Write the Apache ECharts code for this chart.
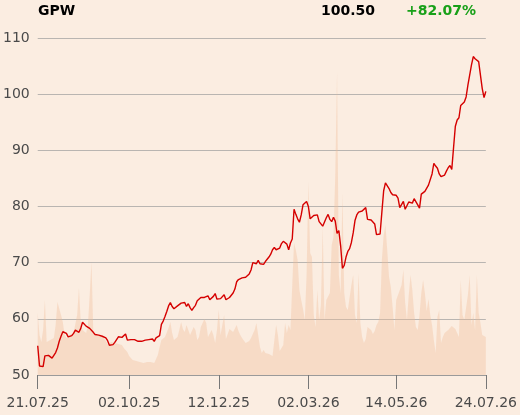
<!DOCTYPE html>
<html>
<head>
<meta charset="utf-8">
<script src="https://cdn.jsdelivr.net/npm/echarts@6/dist/echarts.min.js"></script>
<style>
html,body{margin:0;padding:0;background:#fbede1;}
#c{width:520px;height:415px;}
</style>
</head>
<body>
<div id="c"></div>
<script>
const tickIndex = [0, 51, 101, 151, 200, 250];
const tickLabels = ['21.07.25', '02.10.25', '12.12.25', '02.03.26', '14.05.26', '24.07.26'];
const headerName = 'GPW';
const headerLast = '100.50';
const headerChange = '+82.07%';

const price = [
55.2,51.6,51.5,51.5,53.4,53.1,53.5,53.7,53.0,52.9,
54.0,54.8,56.0,56.9,57.7,57.9,57.4,56.8,56.9,57.0,
57.4,58.0,58.2,57.6,58.3,59.4,59.2,58.7,58.8,58.3,
58.4,57.6,57.2,57.5,57.1,57.3,56.9,56.8,56.6,56.1,
55.3,55.0,55.4,55.8,56.3,56.8,56.8,56.7,57.0,57.3,
56.2,56.4,56.3,56.2,56.3,56.1,56.0,56.1,56.0,55.9,
56.2,56.5,56.3,56.5,56.4,56.0,56.6,56.9,57.0,59.0,
59.6,60.4,61.3,62.3,62.9,62.2,61.8,61.7,62.3,62.6,
62.8,62.9,62.9,62.2,62.7,62.0,61.5,62.0,62.4,63.2,
63.3,63.8,63.7,63.8,63.5,64.1,63.4,63.5,64.0,64.5,
63.5,63.7,63.6,63.6,64.3,63.4,63.3,63.8,64.0,64.6,
65.3,66.6,67.0,67.2,67.3,67.6,67.4,67.5,68.0,68.7,
70.0,70.2,69.8,70.4,69.8,69.5,69.7,70.2,70.5,71.0,
71.5,72.3,72.7,72.3,72.0,72.6,73.4,73.8,74.0,73.3,
72.3,73.5,74.2,79.5,78.6,77.8,77.2,78.5,80.3,80.4,
80.9,80.0,77.8,77.6,78.4,78.2,78.5,77.3,77.0,76.5,
76.5,78.0,78.6,77.7,77.3,78.1,77.4,75.2,75.7,73.0,
69.0,69.5,71.0,72.0,72.5,73.6,75.3,77.5,78.5,79.0,
79.3,79.2,79.3,79.8,77.7,77.5,77.6,77.9,76.9,75.0,
74.9,75.1,79.0,82.8,84.2,84.2,83.2,82.5,82.1,82.0,
82.0,81.5,79.8,79.8,80.9,79.5,79.5,80.8,80.7,80.6,
81.4,81.6,80.3,79.7,82.2,82.5,82.7,83.0,83.8,83.8,
85.8,87.7,87.2,86.8,85.8,85.3,85.2,85.6,86.3,86.9,
87.3,86.6,90.5,94.3,95.4,95.8,98.0,97.7,98.6,99.5,
101.6,101.9,105.2,106.7,106.3,106.0,105.8,105.9,101.0,99.4,
100.5
];

const volume = [
62,40,33,45,75,33,34,35,36,37,
50,73,72,60,53,40,37,38,40,41,
42,43,60,87,53,45,43,42,50,80,
113,43,40,38,39,40,39,38,34,31,
30,33,35,32,30,31,33,30,27,25,
23,19,17,15,13,14,15,13,12,12,
13,13,12,13,12,12,12,20,28,35,
37,38,40,47,53,42,35,37,38,45,
53,46,43,50,52,40,38,48,45,35,
38,48,52,56,52,38,40,45,40,32,
45,65,40,50,60,36,38,46,47,43,
45,50,44,40,37,35,32,30,34,37,
41,45,52,40,28,22,25,22,20,21,
22,19,18,50,40,24,22,30,52,42,
50,45,90,132,125,115,85,75,66,55,
100,193,122,118,60,48,85,55,70,148,
55,75,77,82,130,138,200,303,100,82,
182,82,68,65,65,90,100,60,52,102,
52,38,32,36,48,50,45,41,44,50,
53,62,115,140,150,125,98,88,68,45,
75,80,78,90,105,72,55,80,100,85,
62,48,45,60,82,95,82,64,76,60,
50,35,22,58,65,32,38,42,43,45,
47,49,50,46,42,38,95,60,55,57,
80,100,50,62,45,100,62,52,40,38,
38
];

const priceData = price.map((v, i) => [i, v]);
const volData = volume.map((v, i) => [i, v]);

const chart = echarts.init(document.getElementById('c'), null, {renderer: 'canvas'});
const font = 'DejaVu Sans';
const headStyle = {fontFamily: font, fontSize: 14, fontWeight: 'bold', color: '#000'};
chart.setOption({
  backgroundColor: '#fbede1',
  animation: false,
  title: [
    {text: headerName, left: 38, top: 4, padding: 0, textStyle: headStyle},
    {text: headerLast, left: 321, top: 4, padding: 0, textStyle: headStyle},
    {text: headerChange, left: 406, top: 4, padding: 0, textStyle: Object.assign({}, headStyle, {color: '#18a018'})}
  ],
  grid: {left: 37, right: 34, top: 38, bottom: 40, containLabel: false},
  xAxis: {
    type: 'value', min: 0, max: 250,
    axisLine: {show: true, lineStyle: {color: '#9a9a9a', width: 1}},
    axisTick: {show: true, length: 14, customValues: tickIndex, lineStyle: {color: '#777', width: 1}},
    axisLabel: {
      customValues: tickIndex, margin: 21,
      fontFamily: font, fontSize: 14, color: '#4a4a4a',
      formatter: v => { const k = tickIndex.indexOf(Math.round(v)); return k >= 0 ? tickLabels[k] : ''; }
    },
    splitLine: {show: false}
  },
  yAxis: [
    {
      type: 'value', min: 50, max: 110, interval: 10,
      axisLine: {show: false}, axisTick: {show: false},
      axisLabel: {margin: 8, fontFamily: font, fontSize: 14, color: '#4a4a4a'},
      splitLine: {show: true, lineStyle: {color: '#b9b5b1', width: 1}}
    },
    {type: 'value', min: 0, max: 337, show: false, splitLine: {show: false}}
  ],
  series: [
    {
      type: 'line', yAxisIndex: 1, data: volData, showSymbol: false, silent: true,
      lineStyle: {width: 0}, areaStyle: {color: 'rgba(242,188,150,0.5)'}, z: 1
    },
    {
      type: 'line', yAxisIndex: 0, data: priceData, showSymbol: false,
      lineStyle: {color: '#d50000', width: 1.4}, z: 3
    }
  ]
});
</script>
</body>
</html>
